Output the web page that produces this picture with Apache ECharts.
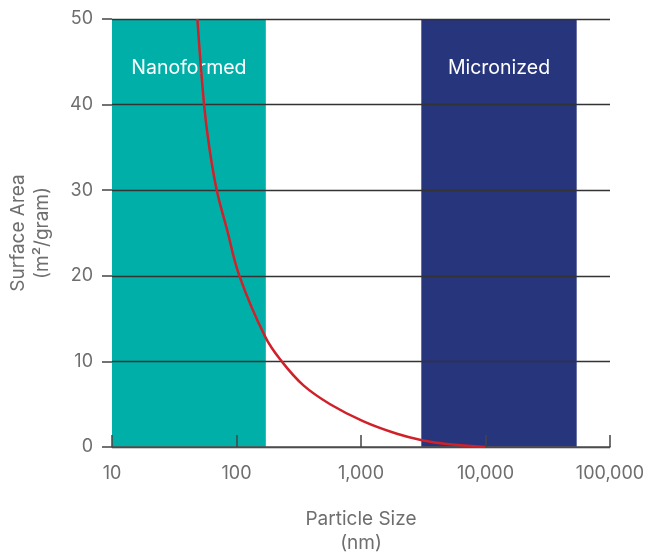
<!DOCTYPE html>
<html>
<head>
<meta charset="utf-8">
<script src="https://cdn.jsdelivr.net/npm/echarts@6/dist/echarts.min.js"></script>
<style>html,body{margin:0;padding:0;background:#fff;overflow:hidden}#c{width:653px;height:555px}</style>
</head>
<body>
<div id="c"></div>
<script>
// Particle size (nm) vs surface area (m²/gram)
const curveSize = [48.5, 54.9, 60.6, 69.4, 83.6, 105.5, 169.8, 231, 345, 565, 1047, 1944, 3087, 4903, 9960];
const curveArea = [50, 40, 34.9, 30, 25.5, 20, 12.9, 10, 7.2, 5.0, 3.0, 1.55, 0.8, 0.35, 0];
const bandNames = ['Nanoformed', 'Micronized'];
const bandStart = [10, 3050];
const bandEnd = [172, 54000];
const yTicks = [0, 10, 20, 30, 40, 50];
const xTicks = [10, 100, 1000, 10000, 100000];

const FONT = 'Inter';
const bandColors = ['#00B0A8', '#27357D'];
const chart = echarts.init(document.getElementById('c'));
chart.setOption({
  animation: false,
  textStyle: { fontFamily: FONT },
  grid: { left: 112, right: 43, top: 19, bottom: 108, outerBoundsMode: 'none', containLabel: false },
  xAxis: {
    type: 'log', logBase: 10, min: xTicks[0], max: xTicks[xTicks.length - 1],
    z: 3,
    name: 'Particle Size\n(nm)', nameLocation: 'middle', nameGap: 60,
    nameTextStyle: { color: '#6e6e6e', fontSize: 19, lineHeight: 24, fontFamily: FONT },
    axisLine: { show: true, lineStyle: { color: '#555', width: 1.5 } },
    axisTick: { show: true, inside: true, length: 12, lineStyle: { color: '#444', width: 1.5 } },
    splitLine: { show: false },
    axisLabel: { color: '#6e6e6e', fontSize: 18, margin: 18, fontFamily: FONT,
      formatter: v => Number(v).toLocaleString('en-US') }
  },
  yAxis: {
    type: 'value', min: yTicks[0], max: yTicks[yTicks.length - 1], interval: 10,
    z: 3,
    name: 'Surface Area\n(m²/gram)', nameLocation: 'middle', nameGap: 58,
    nameTextStyle: { color: '#6e6e6e', fontSize: 19, lineHeight: 24, fontFamily: FONT },
    axisLine: { show: false },
    axisTick: { show: true, length: 10, lineStyle: { color: '#444', width: 1.5 } },
    splitLine: { show: true, lineStyle: { color: '#333', width: 1.3 } },
    axisLabel: { color: '#6e6e6e', fontSize: 18, margin: 19, fontFamily: FONT }
  },
  series: [
    {
      type: 'line', data: [], z: 1, silent: true,
      markArea: {
        silent: true,
        label: { show: true, position: 'insideTop', distance: 39, color: '#fff', fontSize: 19.5, fontFamily: FONT },
        data: bandNames.map((n, i) => [
          { name: n, xAxis: bandStart[i], itemStyle: { color: bandColors[i], opacity: 1 } },
          { xAxis: bandEnd[i] }
        ])
      }
    },
    {
      type: 'line', z: 5, smooth: 0.4, showSymbol: false,
      lineStyle: { color: '#D0202A', width: 2.5 },
      data: curveSize.map((s, i) => [s, curveArea[i]])
    }
  ]
});
</script>
</body>
</html>
